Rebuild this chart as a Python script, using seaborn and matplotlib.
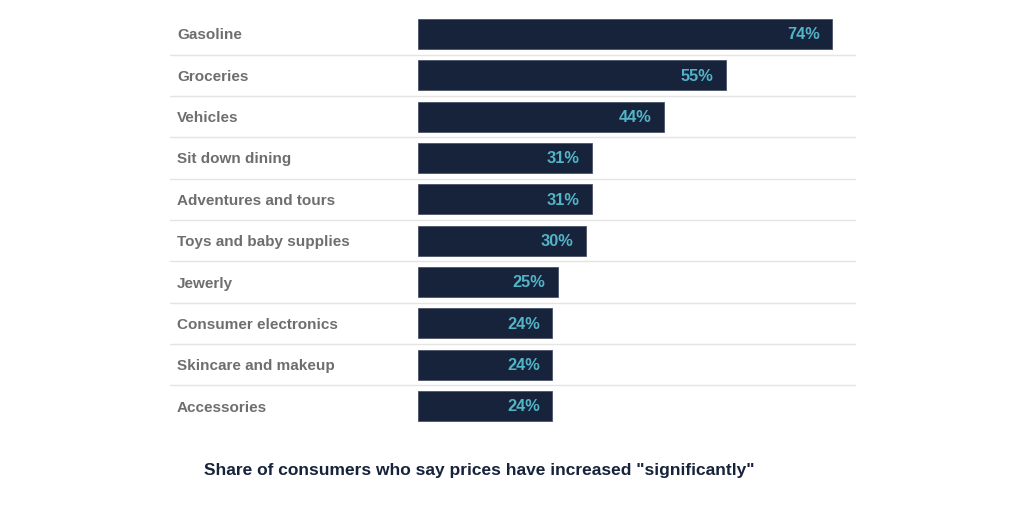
import matplotlib
matplotlib.use("Agg")
import matplotlib.pyplot as plt
import seaborn as sns
import pandas as pd

# datos del grafico
categorias = ["Gasoline", "Groceries", "Vehicles", "Sit down dining", "Adventures and tours",
              "Toys and baby supplies", "Jewerly", "Consumer electronics",
              "Skincare and makeup", "Accessories"]
valores = [74, 55, 44, 31, 31, 30, 25, 24, 24, 24]
titulo_x = 'Share of consumers who say prices have increased "significantly"'

df = pd.DataFrame({"categoria": categorias, "valor": valores})

sns.set_style("white")
plt.rcParams["font.family"] = ["Liberation Sans", "DejaVu Sans"]

W, H = 1024, 507
fig = plt.figure(figsize=(W / 100, H / 100), dpi=100)

# ejes colocados en pixeles del original
ax_left, ax_right = 418, 855
ax_top, ax_bottom = 13.3, 426.7
ax = fig.add_axes([ax_left / W, 1 - ax_bottom / H, (ax_right - ax_left) / W, (ax_bottom - ax_top) / H])

sns.barplot(data=df, x="valor", y="categoria", color="#17233b", width=0.73,
            edgecolor="#4a5468", linewidth=0.6, saturation=1, ax=ax)

ax.set_xlim(0, (ax_right - ax_left) / 5.6)
ax.set_ylim(len(categorias) - 0.5, -0.5)

# etiquetas de valor dentro de la barra
for i, v in enumerate(valores):
    ax.annotate(f"{v}%", xy=(v, i), xytext=(-9, -0.5), textcoords="offset points",
                ha="right", va="center", color="#52b4c7", fontsize=11.8, fontweight="bold")

# lineas separadoras entre filas
x0 = (170 - ax_left) / (ax_right - ax_left)
for i in range(len(categorias) - 1):
    ax.plot([x0, 1], [i + 0.5, i + 0.5], transform=ax.get_yaxis_transform(),
            color="#e4e4e4", linewidth=1, clip_on=False)

ax.set_xticks([])
ax.set_xlabel("")
ax.set_ylabel("")
ax.tick_params(axis="y", length=0, pad=(ax_left - 177) * 0.72)
for lab in ax.get_yticklabels():
    lab.set_ha("left")
    lab.set_color("#6e6e6e")
    lab.set_fontweight("bold")
    lab.set_fontsize(11)

for s in ax.spines.values():
    s.set_visible(False)

fig.text(479 / W, 1 - 471 / H, titulo_x, ha="center", va="center",
         color="#16233a", fontsize=12.5, fontweight="bold")

fig.savefig("out.png", dpi=100)
